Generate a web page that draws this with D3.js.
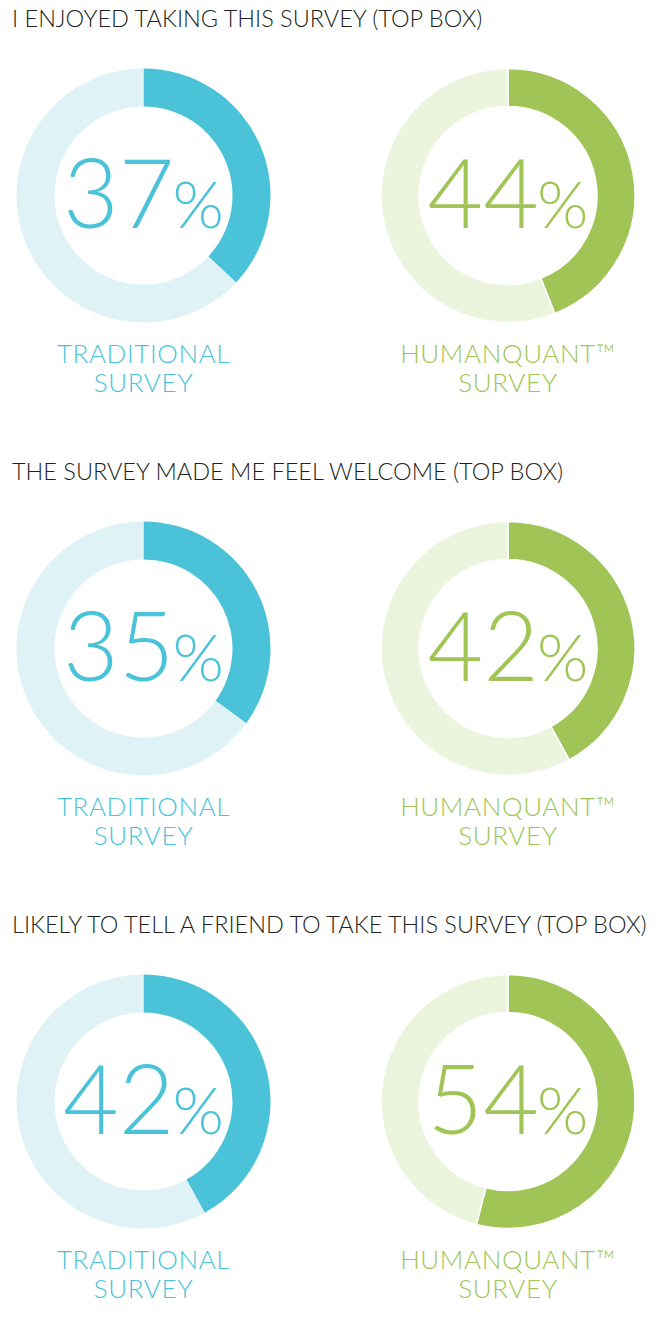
<!DOCTYPE html>
<html>
<head>
<meta charset="utf-8">
<script src="https://cdn.jsdelivr.net/npm/d3@7"></script>
<style>
  body { margin: 0; background: #fff; }
  svg text { font-family: Lato, "Open Sans", sans-serif; }
  .q-title { font-size: 23.5px; font-weight: 300; fill: #231f20; }
  .pct { font-weight: 300; }
  .lbl { font-size: 26px; font-weight: 300; letter-spacing: 0.6px; }
</style>
</head>
<body>
<div id="chart"></div>
<script>
// survey questions, one row each
const questions = [
  "I ENJOYED TAKING THIS SURVEY (TOP BOX)",
  "THE SURVEY MADE ME FEEL WELCOME (TOP BOX)",
  "LIKELY TO TELL A FRIEND TO TAKE THIS SURVEY (TOP BOX)"
];
const surveys = ["traditional", "humanquant"];
const surveyLabels = [["TRADITIONAL", "SURVEY"], ["HUMANQUANT\u2122", "SURVEY"]];
// top box share in percent
const traditional = [37, 35, 42];
const humanquant = [44, 42, 54];

const colors = {
  traditional: {main: "#4ac3d9", rest: "#dff3f7", gap: 0},
  humanquant: {main: "#a0c556", rest: "#ebf4dd", gap: 1.5}
};

const width = 658, height = 1321;
const rowStep = 453;

const svg = d3.select("#chart").append("svg")
    .attr("width", width)
    .attr("height", height);

// rows and columns
const yRow = d3.scaleLinear().domain([0, 1]).range([0, rowStep]);
const xCol = d3.scalePoint().domain(surveys).range([143.5, 508]);

const outerR = 127, innerR = 89;
const pie = d3.pie().sort(null).value(d => d);
const arc = d3.arc().innerRadius(innerR).outerRadius(outerR);

questions.forEach((q, i) => {
  const row = svg.append("g")
      .attr("transform", `translate(0,${yRow(i)})`);

  row.append("text")
      .attr("class", "q-title")
      .attr("x", 12)
      .attr("y", 27)
      .text(q);

  surveys.forEach((s, j) => {
    const value = (s == "traditional" ? traditional : humanquant)[i];
    const c = colors[s];
    const g = row.append("g")
        .attr("transform", `translate(${xCol(s)},195.5)`);

    g.selectAll("path")
      .data(pie([value, 100 - value]))
      .join("path")
        .attr("d", arc)
        .attr("fill", (d, k) => k == 0 ? c.main : c.rest)
        .attr("stroke", "#fff")
        .attr("stroke-width", c.gap);

    const t = g.append("text")
        .attr("class", "pct")
        .attr("text-anchor", "middle")
        .attr("y", 32.5)
        .attr("fill", c.main)
        .style("font-size", "96px");
    t.append("tspan").text(value);
    t.append("tspan").attr("dx", -2).style("font-size", "66px").text("%");

    const lbl = g.append("text")
        .attr("class", "lbl")
        .attr("text-anchor", "middle")
        .attr("fill", c.main);
    surveyLabels[j].forEach((line, k) => {
      lbl.append("tspan")
          .attr("x", 0)
          .attr("y", 167.5 + k * 29)
          .text(line);
    });
  });
});
</script>
</body>
</html>
